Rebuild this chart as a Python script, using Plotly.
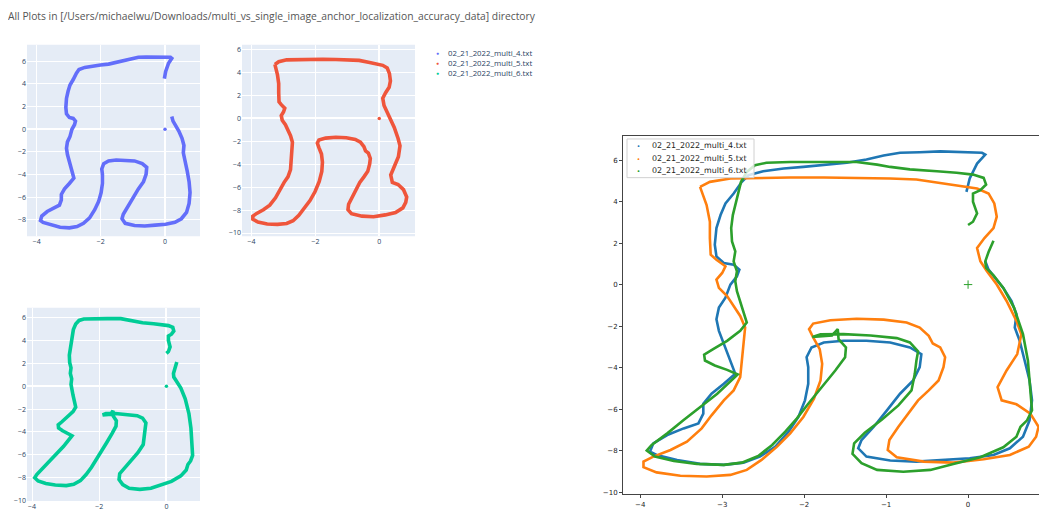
import plotly.graph_objects as go

TITLE = "All Plots in [/Users/michaelwu/Downloads/multi_vs_single_image_anchor_localization_accuracy_data] directory"
names = ["02_21_2022_multi_4.txt", "02_21_2022_multi_5.txt", "02_21_2022_multi_6.txt"]

# traced (x, y) positions of each run
multi4 = [(-0.02, 4.47), (0.02, 5.11), (0.11, 5.83), (0.21, 6.26), (0.17, 6.35), (-0.10, 6.38), (-0.34, 6.42),
          (-0.59, 6.38), (-0.83, 6.35), (-1.03, 6.22), (-1.24, 6.03), (-1.48, 5.87), (-1.76, 5.75), (-2.01, 5.67),
          (-2.25, 5.59), (-2.50, 5.46), (-2.68, 5.27), (-2.76, 4.95), (-2.86, 4.39), (-2.96, 3.91), (-3.02, 3.35),
          (-3.07, 2.72), (-3.09, 1.92), (-3.07, 1.36), (-2.98, 1.04), (-2.86, 0.96), (-2.79, 0.72), (-2.82, 0.40),
          (-2.90, 0.00), (-2.96, -0.63), (-3.04, -1.11), (-3.07, -1.67), (-3.04, -2.23), (-2.98, -2.87),
          (-2.92, -3.50), (-2.86, -4.06), (-2.84, -4.30), (-2.98, -4.78), (-3.13, -5.26), (-3.23, -5.74),
          (-3.23, -6.22), (-3.29, -6.69), (-3.47, -6.93), (-3.67, -7.25), (-3.84, -7.65), (-3.88, -8.05),
          (-3.80, -8.21), (-3.55, -8.45), (-3.27, -8.64), (-2.98, -8.69), (-2.74, -8.58), (-2.54, -8.29),
          (-2.35, -7.81), (-2.19, -7.09), (-2.07, -6.38), (-1.99, -5.58), (-1.95, -4.78), (-1.95, -3.98),
          (-1.97, -3.50), (-1.91, -3.03), (-1.76, -2.79), (-1.52, -2.71), (-1.24, -2.71), (-0.95, -2.79),
          (-0.71, -3.03), (-0.57, -3.35), (-0.59, -3.98), (-0.67, -4.62), (-0.83, -5.26), (-0.99, -6.06),
          (-1.15, -6.85), (-1.30, -7.49), (-1.34, -7.89), (-1.24, -8.29), (-0.95, -8.48), (-0.63, -8.53),
          (-0.30, -8.45), (0.02, -8.37), (0.31, -8.21), (0.51, -7.89), (0.67, -7.33), (0.75, -6.54), (0.78, -5.58),
          (0.75, -4.62), (0.69, -3.66), (0.63, -2.71), (0.57, -2.07), (0.59, -1.43), (0.53, -0.79), (0.43, -0.16),
          (0.33, 0.32), (0.25, 0.72), (0.21, 1.12)]

multi5 = [(-3.27, 4.71), (-3.15, 4.95), (-2.90, 5.11), (-2.58, 5.14), (-2.17, 5.16), (-1.76, 5.16), (-1.36, 5.14),
          (-0.95, 5.11), (-0.63, 5.06), (-0.34, 4.90), (-0.10, 4.76), (0.11, 4.63), (0.25, 4.39), (0.32, 3.91),
          (0.35, 3.27), (0.31, 2.72), (0.20, 2.24), (0.11, 1.76), (0.15, 1.12), (0.23, 0.64), (0.35, 0.00),
          (0.47, -0.79), (0.59, -1.75), (0.65, -2.39), (0.60, -3.35), (0.47, -4.14), (0.36, -4.94), (0.41, -5.58),
          (0.59, -5.77), (0.76, -6.22), (0.86, -6.85), (0.83, -7.33), (0.74, -7.81), (0.51, -8.21), (0.19, -8.42),
          (-0.18, -8.58), (-0.54, -8.53), (-0.87, -8.32), (-0.98, -7.97), (-0.96, -7.49), (-0.85, -6.85),
          (-0.73, -6.22), (-0.61, -5.58), (-0.48, -5.10), (-0.36, -4.62), (-0.30, -3.98), (-0.28, -3.50),
          (-0.34, -3.03), (-0.43, -2.84), (-0.48, -2.47), (-0.59, -2.07), (-0.75, -1.83), (-1.03, -1.69),
          (-1.36, -1.65), (-1.68, -1.72), (-1.89, -1.88), (-1.94, -2.15), (-1.89, -2.55), (-1.81, -3.11),
          (-1.78, -3.82), (-1.80, -4.62), (-1.88, -5.50), (-2.01, -6.38), (-2.17, -7.17), (-2.33, -7.81),
          (-2.52, -8.45), (-2.70, -8.93), (-2.90, -9.17), (-3.19, -9.25), (-3.51, -9.21), (-3.80, -9.05),
          (-3.96, -8.80), (-3.96, -8.53), (-3.84, -8.29), (-3.63, -7.97), (-3.43, -7.57), (-3.25, -6.93),
          (-3.13, -6.30), (-2.98, -5.58), (-2.86, -5.10), (-2.78, -4.46), (-2.76, -3.66), (-2.74, -2.87),
          (-2.72, -2.07), (-2.78, -1.51), (-2.86, -1.03), (-2.94, -0.55), (-3.04, -0.16), (-3.07, 0.24),
          (-3.00, 0.56), (-2.96, 0.88), (-3.07, 1.20), (-3.14, 1.44), (-3.15, 2.24), (-3.15, 3.03), (-3.19, 3.83),
          (-3.25, 4.47), (-3.27, 4.71)]

multi6 = [(0.00, 2.87), (0.06, 3.03), (0.11, 3.43), (0.06, 3.99), (0.06, 4.39), (0.15, 4.55), (0.22, 4.82),
          (0.19, 5.14), (0.06, 5.30), (-0.14, 5.39), (-0.38, 5.46), (-0.71, 5.55), (-0.95, 5.67), (-1.11, 5.78),
          (-1.36, 5.91), (-1.76, 5.91), (-2.17, 5.91), (-2.46, 5.87), (-2.60, 5.75), (-2.70, 5.43), (-2.77, 4.95),
          (-2.81, 4.31), (-2.87, 3.35), (-2.89, 2.72), (-2.88, 2.08), (-2.84, 1.60), (-2.86, 1.12), (-2.82, 0.64),
          (-2.84, 0.16), (-2.82, -0.32), (-2.78, -0.79), (-2.73, -1.43), (-2.70, -1.83), (-2.78, -2.23),
          (-2.94, -2.71), (-3.11, -3.11), (-3.22, -3.38), (-3.21, -3.66), (-3.09, -3.90), (-2.94, -4.11),
          (-2.81, -4.33), (-3.06, -5.26), (-3.27, -5.90), (-3.47, -6.53), (-3.67, -7.17), (-3.86, -7.73),
          (-3.92, -8.00), (-3.82, -8.29), (-3.59, -8.50), (-3.31, -8.64), (-2.98, -8.69), (-2.76, -8.58),
          (-2.56, -8.26), (-2.39, -7.73), (-2.23, -7.09), (-2.09, -6.46), (-1.95, -5.74), (-1.78, -4.94),
          (-1.62, -4.14), (-1.50, -3.50), (-1.49, -3.03), (-1.58, -2.63), (-1.59, -2.15), (-1.66, -2.45),
          (-1.90, -2.52), (-1.80, -2.40), (-1.52, -2.39), (-1.19, -2.45), (-0.87, -2.58), (-0.71, -2.79),
          (-0.61, -3.22), (-0.63, -3.66), (-0.65, -4.30), (-0.69, -5.10), (-0.85, -5.82), (-1.05, -6.50),
          (-1.26, -7.14), (-1.39, -7.65), (-1.41, -8.16), (-1.30, -8.61), (-1.11, -8.93), (-0.79, -9.02),
          (-0.46, -8.93), (-0.18, -8.64), (0.15, -8.32), (0.43, -7.84), (0.59, -7.33), (0.64, -6.85), (0.72, -6.54),
          (0.78, -6.06), (0.76, -4.94), (0.73, -3.66), (0.67, -2.39), (0.56, -1.11), (0.43, -0.16), (0.31, 0.45),
          (0.22, 0.80), (0.21, 1.12), (0.25, 1.57), (0.31, 2.11)]

anchor = [(0.0, 0.0)]

plotly_colors = ["#636EFA", "#EF553B", "#00CC96"]
mpl_colors = ["#1f77b4", "#ff7f0e", "#2ca02c"]

# the page body has an 8px margin, so the figure is drawn 8px in from the window corner
OFF = 8
W, H = 1047 - OFF, 521 - OFF


def fx(p):
    return (p - OFF) / W


def fy(p):
    return 1 - (p - OFF) / H


series = [multi4, multi5, multi6]
fig = go.Figure()

# left: one plotly-style panel per file
for i, (pts, col) in enumerate(zip(series, plotly_colors)):
    ax = "" if i == 0 else str(i + 1)
    fig.add_trace(go.Scatter(x=[p[0] for p in pts], y=[p[1] for p in pts], mode="lines",
                             line=dict(color=col, width=3.6), xaxis="x" + ax, yaxis="y" + ax,
                             name=names[i], showlegend=False))
    fig.add_trace(go.Scatter(x=[a[0] for a in anchor], y=[a[1] for a in anchor], mode="markers",
                             marker=dict(color=col, size=3.5), xaxis="x" + ax, yaxis="y" + ax,
                             showlegend=False))

# right: overlay of all files (matplotlib look)
for i, (pts, col) in enumerate(zip(series, mpl_colors)):
    fig.add_trace(go.Scatter(x=[p[0] for p in pts], y=[p[1] for p in pts], mode="lines",
                             line=dict(color=col, width=2.6), xaxis="x4", yaxis="y4",
                             name=names[i], showlegend=False))
fig.add_trace(go.Scatter(x=[a[0] for a in anchor], y=[a[1] for a in anchor], mode="markers",
                         marker=dict(color=mpl_colors[2], size=6, symbol="cross-thin",
                                     line=dict(color=mpl_colors[2], width=1)),
                         xaxis="x4", yaxis="y4", showlegend=False))

left_ax = dict(showgrid=True, gridcolor="white", gridwidth=1, zeroline=True, zerolinecolor="white",
               zerolinewidth=1.5, dtick=2, ticks="", showline=False,
               tickfont=dict(size=7, color="#2a3f5f", family="Open Sans"))

panels = [  # pixel boxes (left, top, right, bottom) and ranges
    ((27, 45, 200, 238), [-4.30, 1.09], [-9.43, 7.46]),
    ((242, 45, 415, 238), [-4.30, 1.12], [-10.28, 6.43]),
    ((27, 310, 200, 505), [-4.15, 1.00], [-10.05, 6.87]),
]
layout = dict()
shapes = []
for i, (box, xr, yr) in enumerate(panels):
    sfx = "" if i == 0 else str(i + 1)
    l, t, r, b = box
    layout["xaxis" + sfx] = dict(left_ax, domain=[fx(l), fx(r)], range=xr, anchor="y" + sfx)
    layout["yaxis" + sfx] = dict(left_ax, domain=[fy(b), fy(t)], range=yr, anchor="x" + sfx)
    shapes.append(dict(type="rect", xref=("x" + sfx + " domain"), yref=("y" + sfx + " domain"),
                       x0=0, x1=1, y0=0, y1=1, fillcolor="#E5ECF6", line=dict(width=0), layer="below"))

mpl_tick = dict(size=7, color="#222", family="DejaVu Sans")
layout["xaxis4"] = dict(domain=[fx(623), 1.0], range=[-4.21, 0.963], anchor="y4", showgrid=False,
                        zeroline=False, showline=True, linecolor="#444", linewidth=1, mirror=True,
                        ticks="outside", ticklen=3, tickcolor="#444", tickvals=[-4, -3, -2, -1, 0],
                        tickfont=mpl_tick)
layout["yaxis4"] = dict(domain=[fy(498), fy(137)], range=[-10.1, 7.16], anchor="x4", showgrid=False,
                        zeroline=False, showline=True, linecolor="#444", linewidth=1, mirror=False,
                        ticks="outside", ticklen=3, tickcolor="#444", dtick=2, tickfont=mpl_tick)

annotations = [dict(text=TITLE, xref="paper", yref="paper", x=fx(7), y=1.0, xanchor="left",
                    yanchor="top", showarrow=False, borderpad=0,
                    font=dict(size=10.3, color="#555", family="Open Sans"))]

# left legend
for i, yy in enumerate([53, 63.5, 74]):
    annotations.append(dict(text="●", xref="paper", yref="paper", x=fx(437), y=fy(yy), xanchor="center",
                            yanchor="middle", showarrow=False, font=dict(size=5, color=plotly_colors[i])))
    annotations.append(dict(text=names[i], xref="paper", yref="paper", x=fx(446), y=fy(yy), xanchor="left",
                            yanchor="middle", showarrow=False,
                            font=dict(size=7.8, color="#2a3f5f", family="Open Sans")))

# right legend (matplotlib style box)
shapes.append(dict(type="rect", xref="paper", yref="paper", x0=fx(627), x1=fx(754), y0=fy(179), y1=fy(140),
                   fillcolor="rgba(255,255,255,0.8)", line=dict(color="#d0d0d0", width=1), layer="above"))
for i, yy in enumerate([147, 159.5, 172]):
    annotations.append(dict(text="•", xref="paper", yref="paper", x=fx(638), y=fy(yy), xanchor="center",
                            yanchor="middle", showarrow=False, font=dict(size=8, color=mpl_colors[i])))
    annotations.append(dict(text=names[i], xref="paper", yref="paper", x=fx(650), y=fy(yy), xanchor="left",
                            yanchor="middle", showarrow=False,
                            font=dict(size=7.9, color="#222", family="DejaVu Sans")))

fig.update_layout(width=W, height=H, margin=dict(l=0, r=0, t=0, b=0), paper_bgcolor="white",
                  plot_bgcolor="white", showlegend=False, shapes=shapes, annotations=annotations,
                  font=dict(family="Open Sans"), **layout)

fig.write_html("out.html")
